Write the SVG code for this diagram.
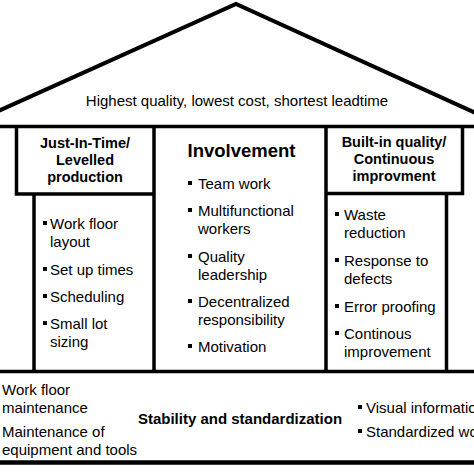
<svg xmlns="http://www.w3.org/2000/svg" width="474" height="474" viewBox="0 0 474 474">
<style>
.ln{fill:none;stroke:#000;stroke-width:3.5;stroke-linecap:butt;stroke-linejoin:miter}
.t{font-family:"Liberation Sans",Arial,sans-serif;font-size:15px;fill:#000}
.h{font-family:"Liberation Sans",Arial,sans-serif;font-size:14.5px;font-weight:bold;fill:#000;text-anchor:middle}
.b{fill:#000}
</style>
<rect width="474" height="474" fill="#fff"/>
<g id="roof">
<polyline class="ln" style="stroke-width:4" points="-4,112 236,4 478,114"/>
<text class="t" x="237" y="106" style="text-anchor:middle">Highest quality, lowest cost, shortest leadtime</text>
</g>
<g id="frame">
<line class="ln" x1="0" y1="126.5" x2="474" y2="126.5"/>
<line class="ln" x1="0" y1="371.5" x2="474" y2="371.5"/>
<line class="ln" x1="0" y1="462.5" x2="474" y2="462.5" style="stroke-width:4.5"/>
</g>
<g id="jit">
<polyline class="ln" points="16.5,126.5 16.5,194 154,194"/>
<line class="ln" x1="154" y1="126.5" x2="154" y2="371.5"/>
<line class="ln" x1="34" y1="194" x2="34" y2="371.5"/>
<text class="h" x="85" y="148">Just-In-Time/</text>
<text class="h" x="85" y="165">Levelled</text>
<text class="h" x="85" y="182">production</text>
<rect class="b" x="43" y="221" width="4" height="4"/>
<text class="t" x="50" y="229">Work floor</text>
<text class="t" x="50" y="247">layout</text>
<rect class="b" x="43" y="267" width="4" height="4"/>
<text class="t" x="50" y="275">Set up times</text>
<rect class="b" x="43" y="294" width="4" height="4"/>
<text class="t" x="50" y="302">Scheduling</text>
<rect class="b" x="43" y="321" width="4" height="4"/>
<text class="t" x="50" y="329">Small lot</text>
<text class="t" x="50" y="347">sizing</text>
</g>
<g id="involvement">
<text class="h" x="241.5" y="157" style="font-size:18.5px">Involvement</text>
<rect class="b" x="188" y="181" width="4" height="4"/>
<text class="t" x="198" y="189">Team work</text>
<rect class="b" x="188" y="208" width="4" height="4"/>
<text class="t" x="198" y="216">Multifunctional</text>
<text class="t" x="198" y="234">workers</text>
<rect class="b" x="188" y="254" width="4" height="4"/>
<text class="t" x="198" y="262">Quality</text>
<text class="t" x="198" y="280">leadership</text>
<rect class="b" x="188" y="299" width="4" height="4"/>
<text class="t" x="198" y="307">Decentralized</text>
<text class="t" x="198" y="325">responsibility</text>
<rect class="b" x="188" y="344" width="4" height="4"/>
<text class="t" x="198" y="352">Motivation</text>
</g>
<g id="quality">
<polyline class="ln" points="326,126.5 326,371.5"/>
<polyline class="ln" points="326,193.5 462.5,193.5 462.5,126.5"/>
<line class="ln" x1="446.5" y1="193.5" x2="446.5" y2="371.5"/>
<text class="h" x="394" y="147">Built-in quality/</text>
<text class="h" x="394" y="164">Continuous</text>
<text class="h" x="394" y="181">improvment</text>
<rect class="b" x="335" y="212" width="4" height="4"/>
<text class="t" x="344" y="220">Waste</text>
<text class="t" x="344" y="238">reduction</text>
<rect class="b" x="335" y="258" width="4" height="4"/>
<text class="t" x="344" y="266">Response to</text>
<text class="t" x="344" y="284">defects</text>
<rect class="b" x="335" y="304" width="4" height="4"/>
<text class="t" x="344" y="312">Error proofing</text>
<rect class="b" x="335" y="331" width="4" height="4"/>
<text class="t" x="344" y="339">Continous</text>
<text class="t" x="344" y="357">improvement</text>
</g>
<g id="stability">
<text class="t" x="2" y="395">Work floor</text>
<text class="t" x="2" y="413">maintenance</text>
<text class="t" x="2" y="437">Maintenance of</text>
<text class="t" x="2" y="455">equipment and tools</text>
<text class="h" x="240" y="424" style="font-size:15px">Stability and standardization</text>
<rect class="b" x="358" y="405" width="4" height="4"/>
<text class="t" x="366" y="413">Visual information</text>
<rect class="b" x="358" y="429" width="4" height="4"/>
<text class="t" x="366" y="437">Standardized work</text>
</g>
</svg>
